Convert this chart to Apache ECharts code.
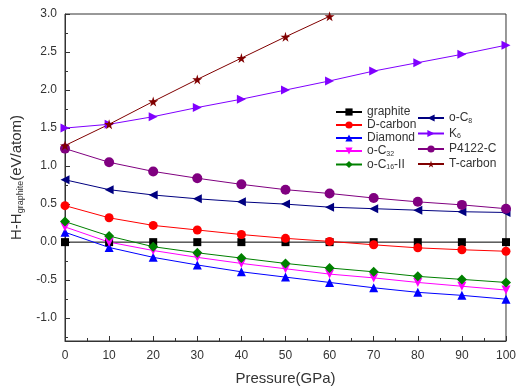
<!DOCTYPE html>
<html>
<head>
<meta charset="utf-8">
<script src="https://cdn.jsdelivr.net/npm/echarts@6/dist/echarts.min.js"></script>
<style>
  html, body { margin: 0; padding: 0; background: #fff; }
  #chart { width: 519px; height: 391px; }
</style>
</head>
<body>
<div id="chart"></div>
<script>
const pressure = [0, 10, 20, 30, 40, 50, 60, 70, 80, 90, 100];

const graphite = [0, 0, 0, 0, 0, 0, 0, 0, 0, 0, 0];
const dCarbon = [0.48, 0.32, 0.22, 0.16, 0.10, 0.05, 0.01, -0.035, -0.075, -0.10, -0.12];
const diamond = [0.13, -0.07, -0.20, -0.30, -0.39, -0.46, -0.53, -0.60, -0.66, -0.70, -0.75];
const oC32 = [0.20, 0.0, -0.11, -0.20, -0.28, -0.35, -0.42, -0.47, -0.53, -0.58, -0.63];
const oC16II = [0.27, 0.08, -0.06, -0.14, -0.21, -0.28, -0.34, -0.39, -0.45, -0.49, -0.53];
const oC8 = [0.82, 0.69, 0.62, 0.57, 0.53, 0.50, 0.46, 0.44, 0.42, 0.40, 0.39];
const k6 = [1.50, 1.55, 1.65, 1.77, 1.88, 2.00, 2.12, 2.25, 2.36, 2.47, 2.59];
const p4122 = [1.23, 1.05, 0.93, 0.84, 0.76, 0.69, 0.64, 0.58, 0.53, 0.49, 0.44];
const tCarbon = [1.27, 1.55, 1.85, 2.14, 2.42, 2.70, 2.97];

const STAR = "path://M50,0 L61,35 L98,35 L68,57 L79,91 L50,70 L21,91 L32,57 L2,35 L39,35 Z";

const font = "'Liberation Sans', Arial, sans-serif";
const txt = "#333";

function pairs(vals) {
  return vals.map((v, i) => [pressure[i], v]);
}

function mk(name, vals, color, symbol, rotate, size) {
  return {
    name: name,
    type: "line",
    data: pairs(vals),
    symbol: symbol,
    symbolRotate: rotate || 0,
    symbolSize: size || 9,
    showAllSymbol: true,
    itemStyle: { color: color },
    lineStyle: { color: color, width: 1 },
    emphasis: { disabled: true },
    z: 3,
  };
}

const labels = {
  "graphite": "{t|graphite}",
  "D-carbon": "{t|D-carbon}",
  "Diamond": "{t|Diamond}",
  "o-C32": "{t|o-C}{s|32}",
  "o-C16-II": "{t|o-C}{s|16}{t|-II}",
  "o-C8": "{t|o-C}{s|8}",
  "K6": "{t|K}{s|6}",
  "P4122-C": "{t|P4122-C}",
  "T-carbon": "{t|T-carbon}",
};

const legendRich = {
  t: { fontFamily: font, fontSize: 12, color: txt },
  s: { fontFamily: font, fontSize: 7, color: txt, verticalAlign: "bottom", padding: [6, 0, 0, 0] },
};

const chart = echarts.init(document.getElementById("chart"));
chart.setOption({
  backgroundColor: "#fff",
  animation: false,
  grid: {
    left: 65,
    right: 11,
    top: 14,
    bottom: 48,
    show: true,
    borderColor: "#333",
    borderWidth: 1,
  },
  legend: [
    {
      data: ["graphite", "D-carbon", "Diamond", "o-C32", "o-C16-II"],
      orient: "vertical",
      left: 330,
      top: 101,
      itemGap: 1,
      itemWidth: 26,
      itemHeight: 9,
      formatter: (n) => labels[n],
      textStyle: { rich: legendRich },
    },
    {
      data: ["o-C8", "K6", "P4122-C", "T-carbon"],
      orient: "vertical",
      left: 412,
      top: 107,
      itemGap: 3,
      itemWidth: 26,
      itemHeight: 9,
      formatter: (n) => labels[n],
      textStyle: { rich: legendRich },
    },
  ],
  xAxis: {
    type: "value",
    min: 0,
    max: 100,
    interval: 10,
    name: "Pressure(GPa)",
    nameLocation: "middle",
    nameGap: 30,
    nameTextStyle: { fontFamily: font, fontSize: 15, color: txt },
    axisLine: { onZero: false, lineStyle: { color: "#333" } },
    axisTick: { inside: true, length: 5, lineStyle: { color: "#333" } },
    minorTick: { show: true, splitNumber: 2, length: 3, lineStyle: { color: "#333" } },
    splitLine: { show: false },
    axisLabel: { fontFamily: font, fontSize: 12, color: txt, margin: 9 },
  },
  yAxis: {
    type: "value",
    min: -1.3,
    max: 3.0,
    splitNumber: 9,
    name: "{t|H-H}{s|graphite}{t|(eV/atom)}",
    nameLocation: "middle",
    nameGap: 40,
    nameTextStyle: {
      rich: {
        t: { fontFamily: font, fontSize: 15, color: txt },
        s: { fontFamily: font, fontSize: 9, color: txt, verticalAlign: "bottom", padding: [8, 0, 0, 0] },
      },
    },
    axisLine: { onZero: false, lineStyle: { color: "#333" } },
    axisTick: { inside: true, length: 5, lineStyle: { color: "#333" } },
    minorTick: { show: true, splitNumber: 2, length: 3, lineStyle: { color: "#333" } },
    splitLine: { show: false },
    axisLabel: {
      fontFamily: font,
      fontSize: 12,
      color: txt,
      margin: 8,
      showMinLabel: false,
      formatter: (v) => v.toFixed(1),
    },
  },
  series: [
    mk("graphite", graphite, "#000000", "rect", 0, 8),
    mk("D-carbon", dCarbon, "#ff0000", "circle", 0, 9),
    mk("Diamond", diamond, "#0000ff", "triangle", 0, 9),
    mk("o-C32", oC32, "#ff00ff", "triangle", 180, 9),
    mk("o-C16-II", oC16II, "#008000", "diamond", 0, 10),
    mk("o-C8", oC8, "#000080", "triangle", 90, 9),
    mk("K6", k6, "#8000ff", "triangle", -90, 9),
    mk("P4122-C", p4122, "#800080", "circle", 0, 10),
    mk("T-carbon", tCarbon, "#800000", STAR, 0, 10),
  ],
});
</script>
</body>
</html>
